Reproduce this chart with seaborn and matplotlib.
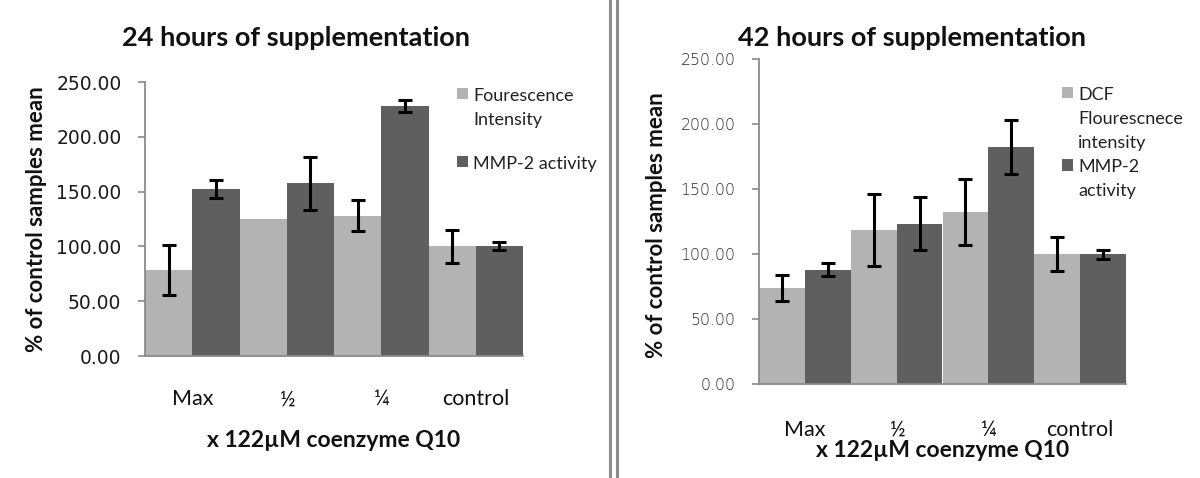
import numpy as np
import pandas as pd
import matplotlib
matplotlib.use("Agg")
import matplotlib.pyplot as plt
from matplotlib.lines import Line2D
import seaborn as sns

# ---------------- data ----------------
categories = ["Max", "½", "¼", "control"]

# 24 hours
fl24 = [78.4, 125.0, 128.0, 100.0]
fl24_err = [23.0, np.nan, 14.0, 15.0]
mmp24 = [152.4, 157.6, 228.0, 100.0]
mmp24_err = [8.0, 24.2, 5.2, 3.7]

# 42 hours
fl42 = [73.6, 118.2, 132.6, 99.8]
fl42_err = [10.1, 27.7, 25.4, 13.0]
mmp42 = [87.9, 123.1, 182.0, 99.8]
mmp42_err = [5.2, 20.4, 20.8, 3.3]

series24 = ["Fourescence\nIntensity", "MMP-2 activity"]
series42 = ["DCF\nFlourescnece\nintensity", "MMP-2\nactivity"]
yticks = [0, 50, 100, 150, 200, 250]

LIGHT = "#b3b3b3"
DARK = "#5f5f5f"
AXIS = "#8a8a8a"

sns.set_theme(style="white")
plt.rcParams["font.family"] = ["Lato", "DejaVu Sans"]

fig = plt.figure(figsize=(12, 4.78), dpi=100)
W, H = 1200, 478


def frac(x0, x1, ytop, ybot):
    return [x0 / W, 1 - ybot / H, (x1 - x0) / W, (ybot - ytop) / H]


def panel(ax, s_names, v1, e1, v2, e2, tick_fs, tick_color, tick_weight):
    df = pd.DataFrame({
        "cat": categories * 2,
        "series": [s_names[0]] * 4 + [s_names[1]] * 4,
        "value": list(v1) + list(v2),
    })
    sns.barplot(data=df, x="cat", y="value", hue="series", order=categories,
                hue_order=s_names, palette=[LIGHT, DARK], width=1.0,
                errorbar=None, saturation=1, ax=ax, linewidth=0)
    errs = list(e1) + list(e2)
    vals = list(v1) + list(v2)
    bars = [p for p in ax.patches if p.get_height() > 0][:8]
    for p, v, e in zip(bars, vals, errs):
        if np.isnan(e):
            continue
        ax.errorbar(p.get_x() + p.get_width() / 2, v, yerr=e, fmt="none",
                    ecolor="black", elinewidth=2.2, capsize=5, capthick=2.2,
                    zorder=5)
    ax.set_xlim(-0.5, 3.5)
    ax.set_ylim(0, 250)
    ax.set_yticks(yticks)
    ax.set_yticklabels([f"{t:.2f}" for t in yticks], fontsize=tick_fs,
                       color=tick_color, family="DejaVu Sans",
                       fontweight=tick_weight)
    for s in ["top", "right"]:
        ax.spines[s].set_visible(False)
    for s in ["left", "bottom"]:
        ax.spines[s].set_color(AXIS)
        ax.spines[s].set_linewidth(1.3)
    ax.tick_params(axis="y", length=5, width=1.2, color=AXIS, direction="out",
                   left=True, pad=12)
    ax.set_xlabel("")
    ax.set_ylabel("")


# ---------------- left panel ----------------
ax1 = fig.add_axes(frac(145, 523, 82, 356))
panel(ax1, series24, fl24, fl24_err, mmp24, mmp24_err, 13.5, "#1a1a1a", "normal")
ax1.tick_params(axis="x", length=0, pad=24, labelsize=15.5, labelcolor="#111111")
ax1.set_ylabel("% of control samples mean", fontsize=16, fontweight="bold",
               color="#111111")
ax1.yaxis.set_label_coords(-0.26, 0.5)
ax1.set_xlabel("x 122µM coenzyme Q10", fontsize=16.5, fontweight="bold",
               color="#111111")
ax1.xaxis.set_label_coords(0.5, -0.307)
ax1.xaxis.label.set_va("center")
fig.text(296 / W, 1 - 38 / H, "24 hours of supplementation", ha="center",
         va="center", fontsize=19.5, fontweight="bold", color="#111111")

leg1 = ax1.legend(loc="upper left", bbox_to_anchor=(457 / W, 1 - 88 / H),
                  bbox_transform=fig.transFigure, frameon=False, fontsize=13,
                  handlelength=0.6, handleheight=0.6, handletextpad=0.3,
                  labelspacing=1.55, borderpad=0, borderaxespad=0)

# ---------------- right panel ----------------
ax2 = fig.add_axes(frac(759, 1126, 59, 384))
panel(ax2, series42, fl42, fl42_err, mmp42, mmp42_err, 11.3, "#2a2a2a", "light")
ax2.tick_params(axis="x", length=0, pad=26, labelsize=15.5, labelcolor="#111111")
ax2.set_ylabel("% of control samples mean", fontsize=16, fontweight="bold",
               color="#111111")
ax2.yaxis.set_label_coords(-0.25, 0.49)
ax2.set_xlabel("x 122µM coenzyme Q10", fontsize=16.5, fontweight="bold",
               color="#111111")
ax2.xaxis.set_label_coords(0.5, -0.205)
ax2.xaxis.label.set_va("center")
fig.text(912 / W, 1 - 38 / H, "42 hours of supplementation", ha="center",
         va="center", fontsize=19.5, fontweight="bold", color="#111111")

leg2 = ax2.legend(loc="upper left", bbox_to_anchor=(1062 / W, 1 - 87 / H),
                  bbox_transform=fig.transFigure, frameon=False, fontsize=13,
                  handlelength=0.6, handleheight=0.6, handletextpad=0.3,
                  labelspacing=0.47, borderpad=0, borderaxespad=0)

for leg in (leg1, leg2):
    for t in leg.get_texts():
        t.set_linespacing(1.6)
        t.set_color("#222222")
    try:
        for col in leg._legend_handle_box.get_children():
            for item in col.get_children():
                item.align = "top"
                for ch in item.get_children():
                    if hasattr(ch, "_multilinebaseline"):
                        ch._multilinebaseline = False
    except Exception:
        pass

# separator (double vertical line)
for x in (609.5, 616.5):
    fig.add_artist(Line2D([x / W, x / W], [0, 1], transform=fig.transFigure,
                          color="#8c8c8c", linewidth=2.2))

fig.savefig("out.png", dpi=100, facecolor="white")
